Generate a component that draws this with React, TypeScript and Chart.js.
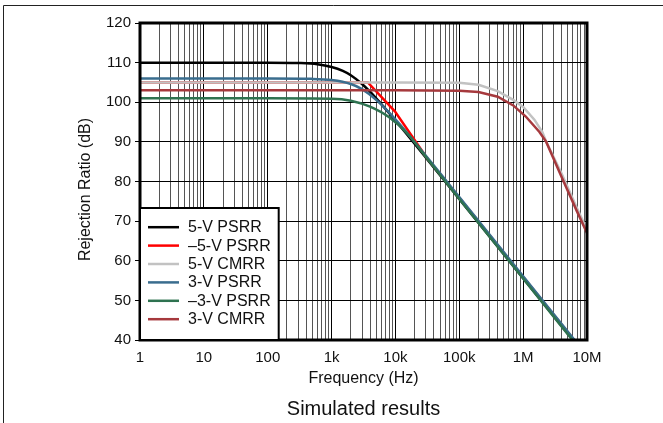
import React, { useEffect, useRef } from 'react';
import { Chart, registerables } from 'chart.js';

Chart.register(...registerables);

const FONT = '"Liberation Sans", Arial, Helvetica, sans-serif';

// Tick labels
const xTickLabels = ['1', '10', '100', '1k', '10k', '100k', '1M', '10M'];
const yMin = 40;
const yMax = 120;
const yStep = 10;
const xTitle = 'Frequency (Hz)';
const yTitle = 'Rejection Ratio (dB)';
const caption = 'Simulated results';

// Series labels and colours
const seriesLabels = ['5-V PSRR', '\u20135-V PSRR', '5-V CMRR', '3-V PSRR', '\u20133-V PSRR', '3-V CMRR'];
const seriesColors = ['#000000', '#ff0000', '#c2c2c2', '#3a6d8e', '#2e7250', '#a6393d'];

// 5-V PSRR
const psrr5Freq = [1, 10, 100, 300, 600, 1000, 1500, 2000, 3000, 5000, 10000, 30000, 100000, 1000000, 10000000];
const psrr5Db = [110, 110, 110, 109.9, 109.6, 108.9, 107.9, 106.8, 104.6, 101.0, 95.4, 86.0, 75.6, 55.6, 35.6];

// -5-V PSRR
const psrrNeg5Freq = [1, 100, 1000, 3700, 9800, 30000, 100000, 1000000, 10000000];
const psrrNeg5Db = [105, 105, 105, 105, 97.7, 86.3, 75.9, 55.9, 35.9];

// 5-V CMRR
const cmrr5Freq = [1, 100, 10000, 100000, 200000, 400000, 700000, 1000000, 1500000, 2000000, 2300000, 4000000, 7000000, 10000000];
const cmrr5Db = [105, 105, 105, 104.9, 104.4, 102.8, 100.6, 98.8, 95.6, 92.5, 90.0, 82.0, 73.2, 67.8];

// 3-V PSRR
const psrr3Freq = [1, 10, 100, 500, 1000, 2000, 3000, 5000, 10000, 30000, 100000, 1000000, 10000000];
const psrr3Db = [106, 106, 106, 105.9, 105.6, 104.6, 103.3, 100.6, 95.7, 86.5, 76.1, 56.1, 36.1];

// -3-V PSRR
const psrrNeg3Freq = [1, 10, 100, 1000, 2000, 4000, 8000, 16000, 30000, 100000, 1000000, 10000000];
const psrrNeg3Db = [101, 101, 101, 100.9, 100.4, 98.9, 96.2, 91.8, 86.2, 75.6, 55.5, 35.4];

// 3-V CMRR
const cmrr3Freq = [1, 100, 10000, 100000, 200000, 400000, 700000, 1100000, 1800000, 2300000, 4200000, 7000000, 10000000];
const cmrr3Db = [103, 103, 103, 102.9, 102.6, 101.4, 99.2, 96.4, 92.5, 90.0, 80.4, 72.4, 67.0];

const seriesFreq = [psrr5Freq, psrrNeg5Freq, cmrr5Freq, psrr3Freq, psrrNeg3Freq, cmrr3Freq];
const seriesDb = [psrr5Db, psrrNeg5Db, cmrr5Db, psrr3Db, psrrNeg3Db, cmrr3Db];
const seriesSmooth = [true, false, false, true, true, false];

const isDecade = (v: number) => {
  const l = Math.log10(v);
  return Math.abs(l - Math.round(l)) < 1e-9;
};

const gridValues: number[] = (() => {
  const out: number[] = [];
  for (let e = 0; e < xTickLabels.length - 1; e++) {
    for (let m = 1; m < 10; m++) out.push(m * Math.pow(10, e));
  }
  out.push(Math.pow(10, xTickLabels.length - 1));
  return out;
})();

const decorPlugin = {
  id: 'decor',
  afterDatasetsDraw(chart: any) {
    const { ctx, chartArea } = chart;
    const { left, top, right, bottom } = chartArea;
    ctx.save();
    // plot frame
    ctx.strokeStyle = '#000';
    ctx.lineWidth = 3;
    ctx.strokeRect(left, top, right - left, bottom - top);

    // legend box
    ctx.font = `16px ${FONT}`;
    const rowH = 18.4;
    const padX = 8;
    const sample = 31;
    const gap = 9;
    const padTop = 10;
    const padBottom = 11.6;
    const labels = chart.data.datasets.map((d: any) => d.label);
    const textW = Math.max(...labels.map((l: string) => ctx.measureText(l).width));
    const w = padX + sample + gap + textW + padX;
    const h = padTop + rowH * labels.length + padBottom;
    const x0 = left;
    const y0 = bottom - h;
    ctx.fillStyle = '#fff';
    ctx.fillRect(x0, y0, w, h);
    ctx.lineWidth = 2;
    ctx.strokeStyle = '#000';
    ctx.strokeRect(x0, y0, w, h);
    ctx.textBaseline = 'middle';
    ctx.textAlign = 'left';
    chart.data.datasets.forEach((d: any, i: number) => {
      const cy = y0 + padTop + rowH * (i + 0.5);
      ctx.strokeStyle = d.borderColor;
      ctx.lineWidth = 2.5;
      ctx.beginPath();
      ctx.moveTo(x0 + padX, cy);
      ctx.lineTo(x0 + padX + sample, cy);
      ctx.stroke();
      ctx.fillStyle = '#111';
      ctx.fillText(d.label, x0 + padX + sample + gap, cy + 0.5);
    });
    ctx.restore();
  },
  afterDraw(chart: any) {
    const { ctx, chartArea, width, height } = chart;
    ctx.save();
    // outer frame (top and left)
    ctx.strokeStyle = '#222';
    ctx.lineWidth = 1;
    ctx.beginPath();
    ctx.moveTo(3.5, height);
    ctx.lineTo(3.5, 5.5);
    ctx.lineTo(width, 5.5);
    ctx.stroke();
    // y axis title
    ctx.fillStyle = '#111';
    ctx.font = `16px ${FONT}`;
    ctx.textAlign = 'center';
    ctx.textBaseline = 'middle';
    ctx.save();
    ctx.translate(86, (chartArea.top + chartArea.bottom) / 2 + 8);
    ctx.rotate(-Math.PI / 2);
    ctx.fillText(yTitle, 0, 0);
    ctx.restore();
    // caption
    ctx.font = `20px ${FONT}`;
    ctx.fillText(caption, (chartArea.left + chartArea.right) / 2, 409);
    ctx.restore();
  },
};

export default function App() {
  const ref = useRef<HTMLCanvasElement | null>(null);

  useEffect(() => {
    if (!ref.current) return;
    const datasets = seriesLabels.map((label, i) => ({
      label,
      data: seriesFreq[i].map((f, j) => ({ x: f, y: seriesDb[i][j] })),
      borderColor: seriesColors[i],
      backgroundColor: seriesColors[i],
      borderWidth: 2.5,
      pointRadius: 0,
      fill: false,
      cubicInterpolationMode: seriesSmooth[i] ? 'monotone' : 'default',
      tension: 0,
      order: seriesLabels.length - i,
    }));

    const chart = new Chart(ref.current, {
      type: 'line',
      data: { datasets },
      options: {
        animation: false,
        responsive: false,
        events: [],
        layout: { padding: { left: 0, top: 23, right: 76, bottom: 0 } },
        plugins: {
          legend: { display: false },
          tooltip: { enabled: false },
          title: { display: false },
        },
        scales: {
          x: {
            type: 'logarithmic',
            min: 1,
            max: 10000000,
            afterBuildTicks: (s: any) => {
              s.ticks = gridValues.map((v) => ({ value: v, major: isDecade(v) }));
            },
            afterFit: (s: any) => {
              s.height = 83;
            },
            ticks: {
              autoSkip: false,
              maxRotation: 0,
              minRotation: 0,
              padding: 9,
              color: '#111',
              font: { size: 15, family: FONT },
              callback: (v: any) => (isDecade(Number(v)) ? xTickLabels[Math.round(Math.log10(Number(v)))] : ''),
            },
            grid: {
              drawTicks: false,
              lineWidth: 1,
              color: (c: any) => (c.tick && isDecade(c.tick.value) ? '#000' : '#555'),
            },
            border: { display: false },
            title: {
              display: true,
              text: xTitle,
              color: '#111',
              font: { size: 16, family: FONT },
              padding: { top: 0, bottom: 35 },
            },
          },
          y: {
            type: 'linear',
            min: yMin,
            max: yMax,
            afterFit: (s: any) => {
              s.width = 140;
            },
            ticks: {
              stepSize: yStep,
              padding: 4,
              color: '#111',
              font: { size: 15, family: FONT },
            },
            grid: {
              drawTicks: true,
              tickLength: 5,
              tickColor: '#000',
              lineWidth: 1,
              color: '#000',
            },
            border: { display: false },
            title: { display: false },
          },
        },
      },
      plugins: [decorPlugin],
    } as any);

    return () => chart.destroy();
  }, []);

  return (
    <div style={{ position: 'absolute', left: 0, top: 0, width: 663, height: 423, background: '#fff' }}>
      <canvas ref={ref} width={663} height={423} style={{ display: 'block' }} />
    </div>
  );
}
